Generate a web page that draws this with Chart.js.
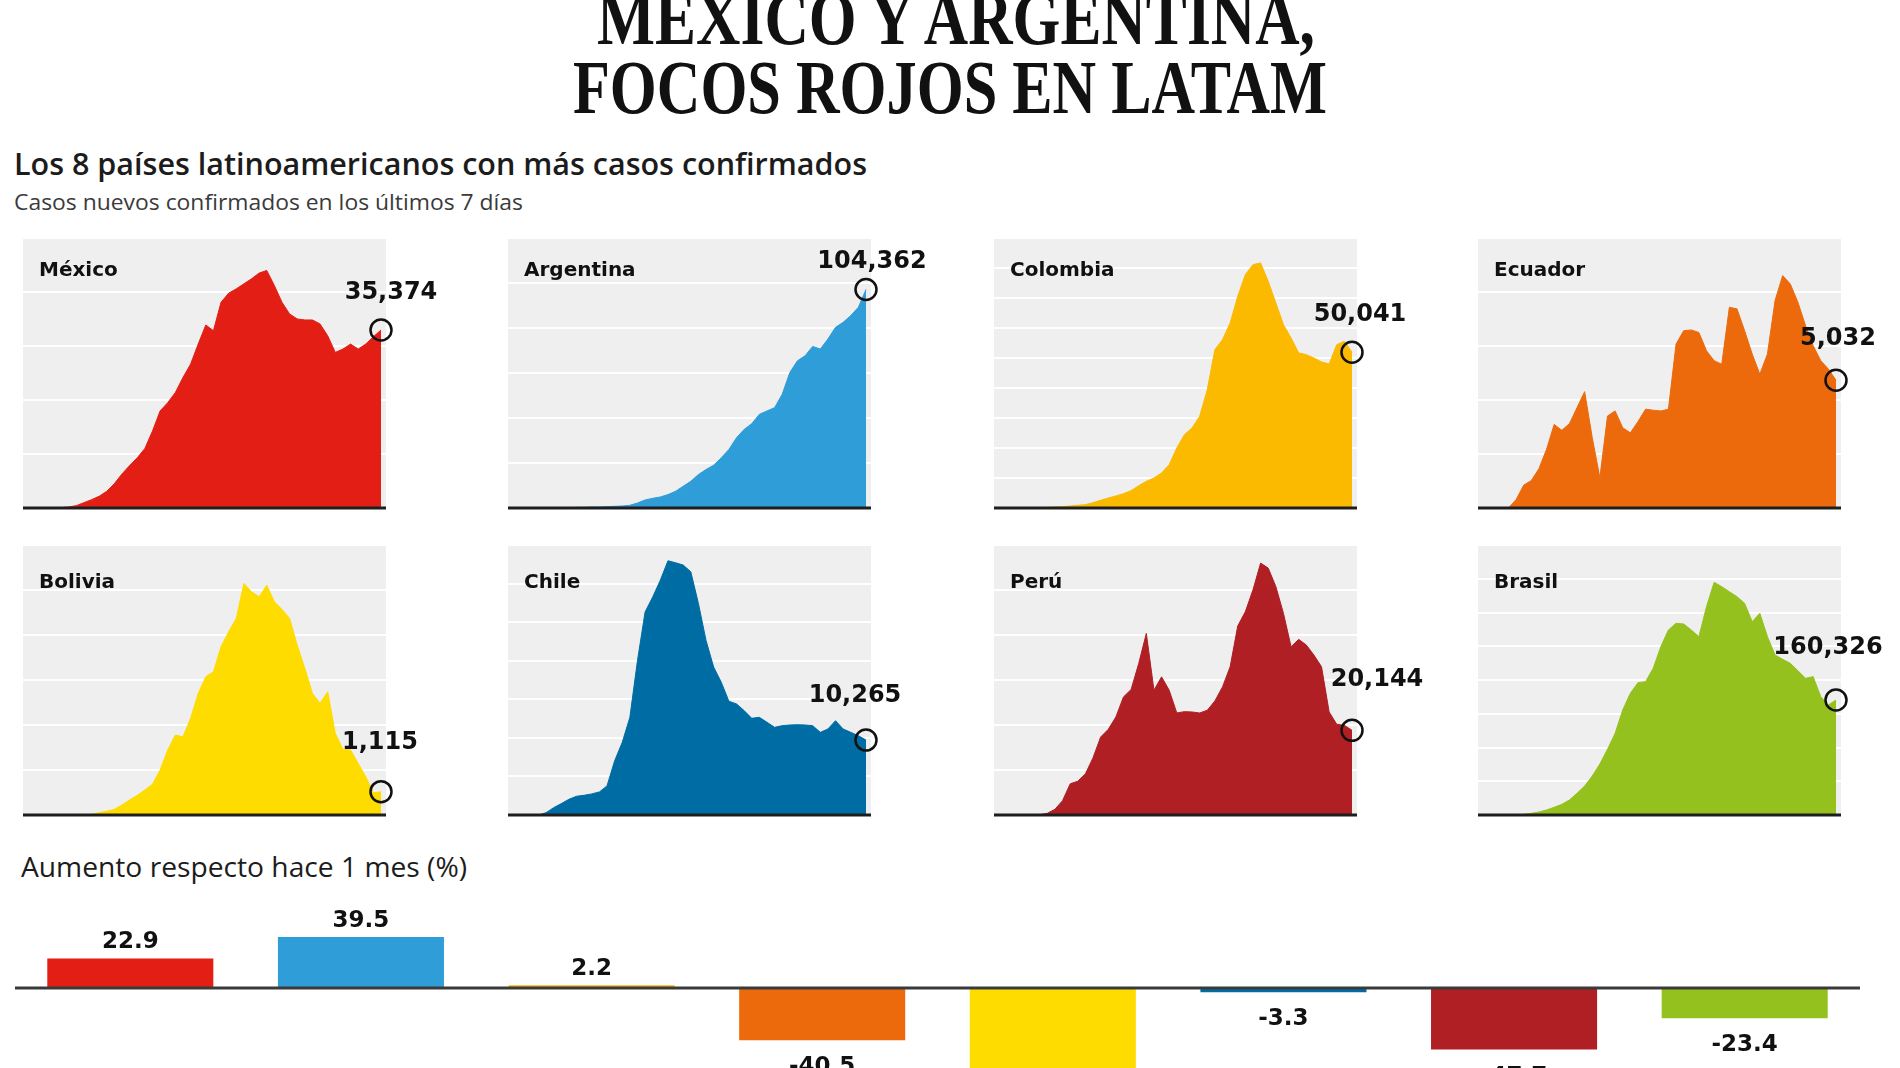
<!DOCTYPE html>
<html>
<head>
<meta charset="utf-8">
<script src="https://cdn.jsdelivr.net/npm/chart.js@4.4.1/dist/chart.umd.min.js"></script>
<style>
  html, body { margin: 0; padding: 0; background: #ffffff; }
  body { width: 1900px; height: 1068px; position: relative; overflow: hidden; }
  .txt { position: absolute; white-space: nowrap; transform-origin: 0 0; }
  .box { position: absolute; }
  .box canvas { display: block; }
</style>
</head>
<body>
<script>
// ---------------- DATA ----------------
const countries = ['México', 'Argentina', 'Colombia', 'Ecuador', 'Bolivia', 'Chile', 'Perú', 'Brasil'];
const colors = ['#e31e14', '#2f9dd8', '#fbb900', '#ec6a0c', '#ffdc00', '#006ca4', '#b01f24', '#95c11f'];

// Casos nuevos confirmados en los últimos 7 días (serie semanal móvil, lectura del gráfico)
const mexico    = [0,0,0,0,0,70,200,470,1060,1660,2330,3330,4850,6780,8440,9970,11840,15290,19280,20940,22940,25930,28590,32580,36370,35240,40890,42690,43550,44550,45550,46680,47210,44220,40890,38560,37570,37370,37370,36570,34240,30920,31580,32580,31580,32580,34040,35374];
const argentina = [0,0,0,0,0,0,0,0,160,320,320,480,480,640,800,960,1280,2400,3840,4630,5270,6390,7990,10390,12780,15980,18380,20450,23970,27970,33560,37550,40270,44740,46340,47940,54330,64720,70310,72710,77180,75910,80700,86290,88690,91890,95880,104362];
const colombia  = [0,0,0,0,0,0,110,210,320,430,640,860,1070,1710,2460,3210,3860,4610,5570,7180,8570,9640,11250,13930,19290,23570,25720,29470,38040,50900,54110,59470,68040,75010,78220,78760,72860,65900,58930,54650,49830,49290,48220,46930,46290,52500,53570,50041];
const ecuador   = [0,0,0,0,0,330,900,1080,1550,2310,3290,3060,3320,3950,4580,2770,1190,3620,3820,3160,2960,3400,3890,3850,3820,3890,6450,6980,7010,6910,6190,5800,5660,7900,7840,6980,6060,5270,6060,8170,9150,8820,8100,7180,6390,5800,5470,5032];
const bolivia   = [0,0,0,0,0,0,0,0,0,30,110,180,270,480,720,940,1200,1470,2150,3110,3820,3740,4620,5810,6610,6850,8050,8760,9400,11070,10670,10430,10990,10200,9830,9400,8120,7010,5810,5340,5890,3900,3140,3110,2470,1830,1060,1115];
const chile     = [0,0,0,0,0,320,1010,1560,2150,2570,2700,2890,3160,3990,7420,9950,13380,21170,27820,29880,32170,34830,34560,34240,33320,28970,23920,20260,18190,15580,15220,14300,13250,13380,12700,12010,12240,12330,12370,12330,12240,11320,11780,12920,11780,11320,10860,10265];
const peru      = [0,0,0,0,0,0,80,400,1350,3420,7410,8040,9790,13620,18550,20380,23330,28110,29860,36070,43230,29700,32880,29700,24280,24600,24520,24280,24920,27150,30490,35270,44990,48410,53580,59950,58760,54380,48010,40050,41800,40450,38060,35270,24520,21580,21340,20144];
const brasil    = [0,0,0,0,0,0,930,2320,4180,6970,10690,14870,20910,30210,40430,54370,71100,91550,113850,146380,169620,184490,185880,204470,234670,257910,267200,266270,257910,248620,290440,324360,318320,311350,304380,295090,269530,281140,248620,223060,217020,211440,201220,190530,192850,164970,153350,160326];

const weeklyCases = [mexico, argentina, colombia, ecuador, bolivia, chile, peru, brasil];

// Escalas (eje y de cada panel) y separación de líneas guía
const yMax  = [53660, 128960, 86780, 10630, 12910, 36990, 64260, 376400];
const yStep = [10000, 20000, 10000, 2000, 2000, 5000, 10000, 50000];

// Aumento respecto hace 1 mes (%)
const changePct = [22.9, 39.5, 2.2, -40.5, -71.4, -3.3, -47.7, -23.4];
const changeMin = -62.0;
const changeMax = 68.2;

// ---------------- LAYOUT ----------------
const panelLeft = [23, 508, 994, 1478];
const panelTop  = [238, 545];
const panelW = 363, panelH = 270, dataW = 358;
const extraTop = 40, extraRight = 80, extraBottom = 6;
const nameBaseline = [276, 588];
// offset of the value label centre from the last point
const labelOffset = [[10,-37],[6,-28],[8,-38],[2,-41],[-1,-49],[-11,-44],[25,-51],[-8,-52]];

function placeText(text, o) {
  const div = document.createElement('div');
  div.className = 'txt';
  div.style.font = o.font;
  div.style.color = o.color || '#111';
  div.style.left = '0px';
  div.style.top = '0px';
  const span = document.createElement('span');
  span.textContent = text;
  const mark = document.createElement('span');
  mark.style.cssText = 'display:inline-block;width:0;height:0;';
  div.append(span, mark);
  document.body.appendChild(div);
  const r = span.getBoundingClientRect();
  const m = mark.getBoundingClientRect();
  const sx = o.width ? o.width / r.width : 1;
  div.style.transform = 'scaleX(' + sx + ')';
  div.style.left = (o.x - r.left * sx) + 'px';
  div.style.top = (o.baseline - m.top) + 'px';
}

// Titles
placeText('MÉXICO Y ARGENTINA,', { x: 597, baseline: 44, width: 718, font: '700 76px "Liberation Serif"', color: '#111' });
placeText('FOCOS ROJOS EN LATAM', { x: 573, baseline: 113, width: 754, font: '700 76px "Liberation Serif"', color: '#111' });
placeText('Los 8 países latinoamericanos con más casos confirmados', { x: 14, baseline: 175, width: 853, font: '600 30px "Open Sans"', color: '#1c1c1c' });
placeText('Casos nuevos confirmados en los últimos 7 días', { x: 14, baseline: 210, width: 509, font: '400 22px "Open Sans"', color: '#3a3a3a' });
placeText('Aumento respecto hace 1 mes (%)', { x: 21, baseline: 877, width: 446, font: '500 28px "Open Sans"', color: '#1c1c1c' });

// ---------------- PANELS ----------------
Chart.defaults.font.family = '"DejaVu Sans"';

weeklyCases.forEach((series, k) => {
  const row = Math.floor(k / 4), col = k % 4;
  const box = document.createElement('div');
  box.className = 'box';
  box.style.left = panelLeft[col] + 'px';
  box.style.top = (panelTop[row] - extraTop) + 'px';
  const cv = document.createElement('canvas');
  cv.width = panelW + extraRight;
  cv.height = panelH + extraTop + extraBottom;
  box.appendChild(cv);
  document.body.appendChild(box);

  const pts = series.map((v, i) => ({ x: i, y: v }));
  const xMaxPanel = (series.length - 1) * panelW / dataW;

  const deco = {
    id: 'deco' + k,
    beforeDraw(chart) {
      const { ctx, chartArea: a } = chart;
      ctx.save();
      ctx.fillStyle = '#efefef';
      ctx.fillRect(a.left, a.top, a.right - a.left, a.bottom - a.top);
      ctx.restore();
    },
    afterDatasetsDraw(chart) {
      const { ctx, chartArea: a } = chart;
      ctx.save();
      // baseline
      ctx.fillStyle = '#1e1e1e';
      ctx.fillRect(a.left, a.bottom - 1.5, a.right - a.left, 3);
      // last point marker
      const meta = chart.getDatasetMeta(0);
      const last = meta.data[meta.data.length - 1];
      ctx.beginPath();
      ctx.arc(last.x, last.y, 10.5, 0, Math.PI * 2);
      ctx.lineWidth = 2.5;
      ctx.strokeStyle = '#111';
      ctx.stroke();
      // value label
      const v = series[series.length - 1];
      ctx.font = 'bold 24px "DejaVu Sans"';
      ctx.fillStyle = '#111';
      ctx.textAlign = 'center';
      ctx.textBaseline = 'middle';
      ctx.fillText(v.toLocaleString('en-US'), last.x + labelOffset[k][0], last.y + labelOffset[k][1]);
      ctx.restore();
    }
  };

  new Chart(cv, {
    type: 'line',
    data: {
      datasets: [{
        data: pts,
        fill: 'origin',
        backgroundColor: colors[k],
        borderColor: colors[k],
        borderWidth: 1,
        pointRadius: 0,
        tension: 0
      }]
    },
    options: {
      responsive: false,
      animation: false,
      devicePixelRatio: 1,
      layout: { padding: { left: 0, top: extraTop, right: extraRight, bottom: extraBottom } },
      plugins: { legend: { display: false }, tooltip: { enabled: false } },
      scales: {
        x: { type: 'linear', display: false, min: 0, max: xMaxPanel },
        y: {
          display: true, min: 0, max: yMax[k],
          ticks: { display: false, stepSize: yStep[k] },
          grid: { color: '#ffffff', lineWidth: 2, drawTicks: false },
          border: { display: false }
        }
      }
    },
    plugins: [deco]
  });

  placeText(countries[k], { x: panelLeft[col] + 16, baseline: nameBaseline[row], font: '700 20px "DejaVu Sans"', color: '#111' });
});

// ---------------- BAR CHART ----------------
(function () {
  const box = document.createElement('div');
  box.className = 'box';
  box.style.left = '0px';
  box.style.top = '890px';
  const cv = document.createElement('canvas');
  cv.width = 1900;
  cv.height = 178;
  box.appendChild(cv);
  document.body.appendChild(box);

  const barDeco = {
    id: 'barDeco',
    afterDatasetsDraw(chart) {
      const { ctx, chartArea: a } = chart;
      const y0 = chart.scales.y.getPixelForValue(0);
      ctx.save();
      ctx.fillStyle = '#3a3a3a';
      ctx.fillRect(a.left, y0 - 1.5, a.right - a.left, 3);
      const meta = chart.getDatasetMeta(0);
      ctx.font = 'bold 23px "DejaVu Sans"';
      ctx.fillStyle = '#111';
      ctx.textAlign = 'center';
      ctx.textBaseline = 'middle';
      meta.data.forEach((bar, i) => {
        const v = changePct[i];
        const ty = v >= 0 ? bar.y - 16 : bar.y + 27;
        ctx.fillText(v.toFixed(1), bar.x, ty);
      });
      ctx.restore();
    }
  };

  new Chart(cv, {
    type: 'bar',
    data: {
      labels: countries,
      datasets: [{
        data: changePct,
        backgroundColor: colors,
        borderWidth: 0,
        barPercentage: 0.72,
        categoryPercentage: 1
      }]
    },
    options: {
      responsive: false,
      animation: false,
      devicePixelRatio: 1,
      layout: { padding: { left: 15, right: 40, top: 10, bottom: 0 } },
      plugins: { legend: { display: false }, tooltip: { enabled: false } },
      scales: {
        x: { display: false },
        y: { display: false, min: changeMin, max: changeMax }
      }
    },
    plugins: [barDeco]
  });
})();
</script>
</body>
</html>
